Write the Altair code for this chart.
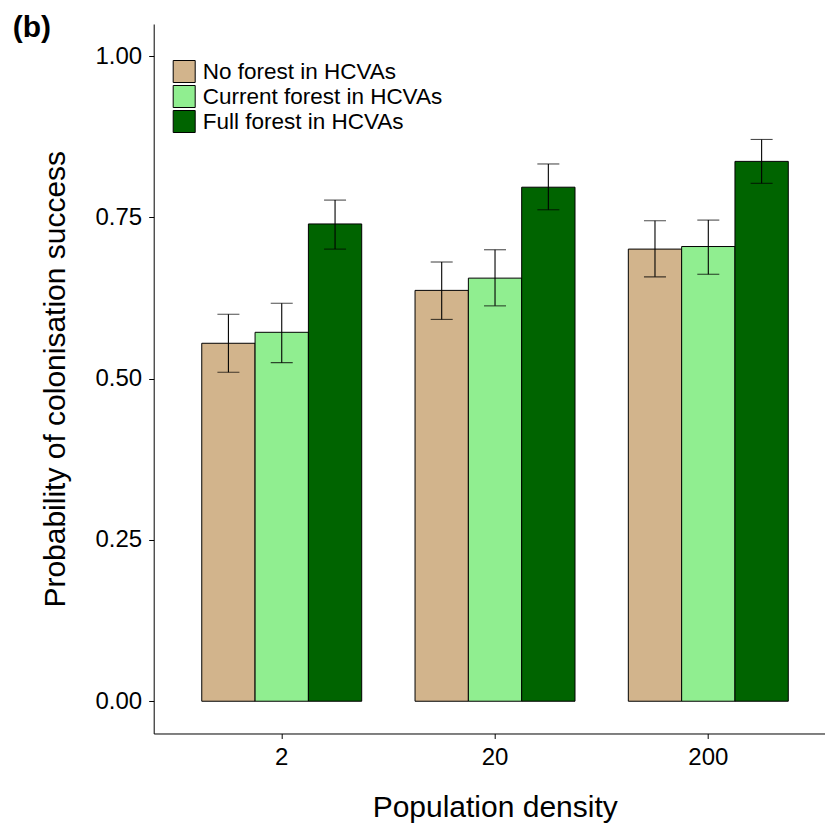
import altair as alt
import pandas as pd

densities = ["2", "20", "200"]
scenarios = ["No forest in HCVAs", "Current forest in HCVAs", "Full forest in HCVAs"]
colors = ["#D2B48C", "#90EE90", "#006400"]

no_forest = [0.555, 0.637, 0.701]
no_forest_lo = [0.510, 0.592, 0.658]
no_forest_hi = [0.600, 0.681, 0.745]
current = [0.572, 0.656, 0.705]
current_lo = [0.525, 0.613, 0.662]
current_hi = [0.617, 0.700, 0.746]
full = [0.740, 0.797, 0.837]
full_lo = [0.701, 0.762, 0.803]
full_hi = [0.777, 0.833, 0.871]

rows = []
for name, vals, los, his in [
    (scenarios[0], no_forest, no_forest_lo, no_forest_hi),
    (scenarios[1], current, current_lo, current_hi),
    (scenarios[2], full, full_lo, full_hi),
]:
    for d, v, lo, hi in zip(densities, vals, los, his):
        rows.append({"density": d, "scenario": name, "prob": v, "lo": lo, "hi": hi})
df = pd.DataFrame(rows)

FONT = "Liberation Sans"

x_enc = alt.X(
    "density:N",
    sort=densities,
    scale=alt.Scale(domain=densities, paddingInner=0.25, paddingOuter=0.198, align=0.569, round=False),
    axis=alt.Axis(title="Population density", labelAngle=0, labelPadding=7, titlePadding=23, titleX=341),
)
xo_enc = alt.XOffset(
    "scenario:N",
    sort=scenarios,
    scale=alt.Scale(domain=scenarios, paddingInner=0, paddingOuter=0),
)
y_scale = alt.Scale(domain=[-0.05, 1.05], nice=False, zero=False)

base = alt.Chart(df)

bars = base.mark_bar(stroke="black", strokeWidth=1).encode(
    x=x_enc,
    xOffset=xo_enc,
    y=alt.Y(
        "prob:Q",
        scale=y_scale,
        axis=alt.Axis(
            values=[0, 0.25, 0.5, 0.75, 1.0],
            format=".2f",
            title="Probability of colonisation success",
            labelPadding=7,
            titlePadding=24,
        ),
    ),
    y2=alt.datum(0),
    color=alt.Color(
        "scenario:N",
        scale=alt.Scale(domain=scenarios, range=colors),
        title=None,
        legend=alt.Legend(
            orient="none",
            legendX=19,
            legendY=36,
            symbolType="square",
            symbolSize=484,
            symbolStrokeColor="black",
            symbolStrokeWidth=1,
            symbolOpacity=1,
            labelFont=FONT,
            labelFontSize=22.5,
            labelColor="black",
            labelOffset=7,
            labelLimit=500,
            rowPadding=-3.5,
            padding=0,
        ),
    ),
)

rules = base.mark_rule(color="black", strokeWidth=1.1).encode(
    x=x_enc, xOffset=xo_enc, y=alt.Y("lo:Q", scale=y_scale), y2="hi:Q"
)
cap_lo = base.mark_tick(color="black", size=22, thickness=1.1).encode(
    x=x_enc, xOffset=xo_enc, y=alt.Y("lo:Q", scale=y_scale)
)
cap_hi = base.mark_tick(color="black", size=22, thickness=1.1).encode(
    x=x_enc, xOffset=xo_enc, y=alt.Y("hi:Q", scale=y_scale)
)

panel_label = alt.Chart(pd.DataFrame({"label": ["(b)"]})).mark_text(
    font=FONT, fontSize=30, fontWeight="bold", align="left", baseline="alphabetic", color="black"
).encode(text="label:N", x=alt.value(-141), y=alt.value(12.5))

chart = (
    alt.layer(bars, rules, cap_lo, cap_hi, panel_label)
    .properties(
        width=671,
        height=709.5,
        autosize="none",
        padding={"left": 153.7, "top": 24, "right": 0, "bottom": 94},
        background="white",
    )
    .configure_view(stroke=None)
    .configure_axis(
        grid=False,
        labelFont=FONT,
        labelFontSize=24,
        labelColor="black",
        titleFont=FONT,
        titleFontSize=30,
        titleFontWeight="normal",
        titleColor="black",
        domainColor="black",
        domainWidth=1,
        tickColor="black",
        tickWidth=1,
        tickSize=5,
    )
)

chart.save("out.html", embed_options={"renderer": "svg", "actions": False})
